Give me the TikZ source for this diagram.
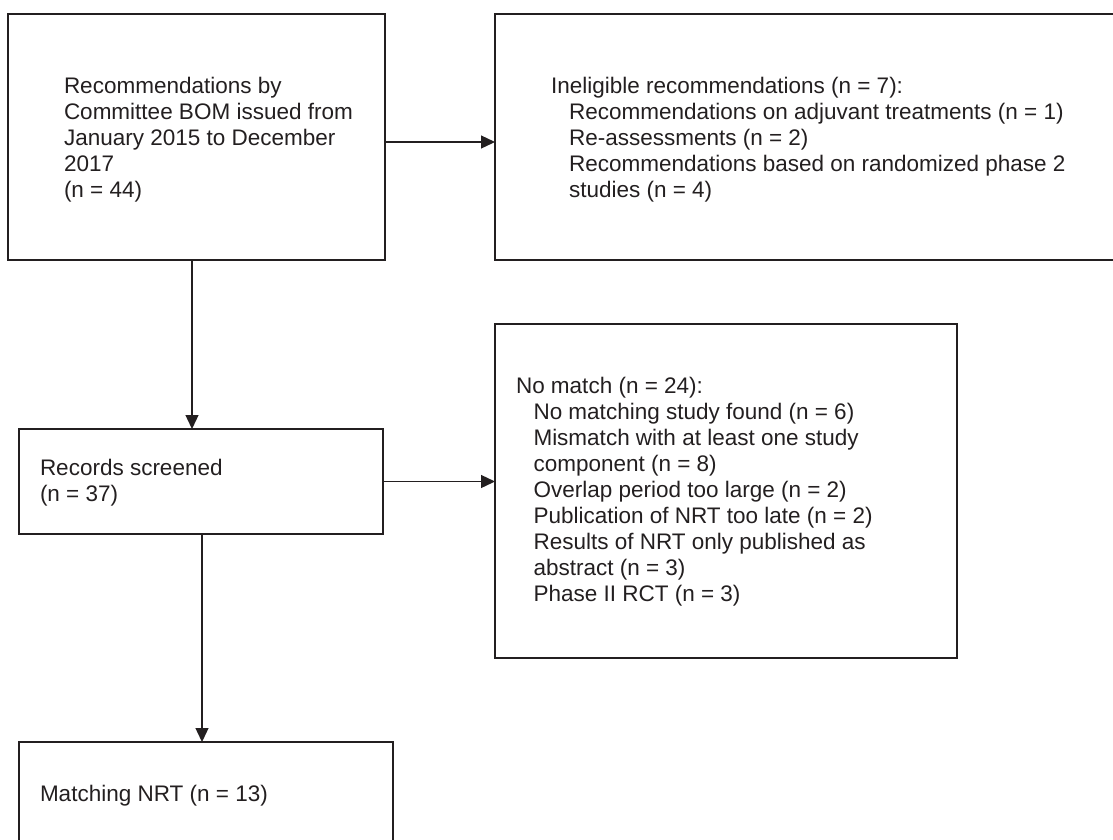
\documentclass[tikz,border=0pt]{standalone}
\usepackage{fontspec}
\setmainfont{Liberation Sans}
\usetikzlibrary{arrows.meta,calc}
\definecolor{ink}{HTML}{231F20}
\begin{document}
\begin{tikzpicture}[x=1pt,y=-1pt,
  box/.style={draw=ink, line width=2.3pt, anchor=north west, inner sep=0pt, outer sep=0pt},
  txt/.style={anchor=base west, inner sep=0pt, outer sep=0pt, text=ink,
     font=\fontsize{22.5}{26}\selectfont},
  arr/.style={draw=ink, line width=1.3pt, -{Triangle[length=14pt,width=13pt]}},
  ln/.style={draw=ink, line width=1.3pt}]
\useasboundingbox (0,0) rectangle (1113,839);
\clip (0,0) rectangle (1113,839);
% boxes
\node[box, minimum width=377pt, minimum height=246pt] (b1) at (8,14) {};
\node[box, minimum width=640pt, minimum height=246pt] (b2) at (495,14) {};
\node[box, minimum width=364pt, minimum height=105pt] (b3) at (19,429) {};
\node[box, minimum width=462pt, minimum height=334pt] (b4) at (495,324) {};
\node[box, minimum width=374pt, minimum height=140pt] (b5) at (19,742) {};
% texts
\node[txt] (t1) at (64,93) {\begin{tabular}[t]{@{}l@{}}Recommendations by\\Committee BOM issued from\\January 2015 to December\\2017\\(n = 44)\end{tabular}};
\node[txt] (t2) at (551,93) {\begin{tabular}[t]{@{}l@{}}Ineligible recommendations (n = 7):\\
\hspace*{18pt}Recommendations on adjuvant treatments (n = 1)\\
\hspace*{18pt}Re-assessments (n = 2)\\
\hspace*{18pt}Recommendations based on randomized phase 2\\
\hspace*{18pt}studies (n = 4)\end{tabular}};
\node[txt] (t3) at (40,475) {\begin{tabular}[t]{@{}l@{}}Records screened\\(n = 37)\end{tabular}};
\node[txt] (t4) at (516,393) {\begin{tabular}[t]{@{}l@{}}No match (n = 24):\\
\hspace*{17.5pt}No matching study found (n = 6)\\
\hspace*{17.5pt}Mismatch with at least one study\\
\hspace*{17.5pt}component (n = 8)\\
\hspace*{17.5pt}Overlap period too large (n = 2)\\
\hspace*{17.5pt}Publication of NRT too late (n = 2)\\
\hspace*{17.5pt}Results of NRT only published as\\
\hspace*{17.5pt}abstract (n = 3)\\
\hspace*{17.5pt}Phase II RCT (n = 3)\end{tabular}};
\node[txt] (t5) at (40,801) {Matching NRT (n = 13)};
% connectors
\draw[arr] ([xshift=-4.5pt]b1.south) -- ([xshift=-4.5pt]b1.south |- b3.north);
\draw[arr] ([yshift=-5pt]b1.east) -- ([yshift=-5pt]b1.east -| b2.west);
\draw[arr] (b3.east) -- (b3.east -| b4.west);
\draw[arr] ([xshift=1pt]b3.south) -- ([xshift=1pt]b3.south |- b5.north);
\end{tikzpicture}
\end{document}
